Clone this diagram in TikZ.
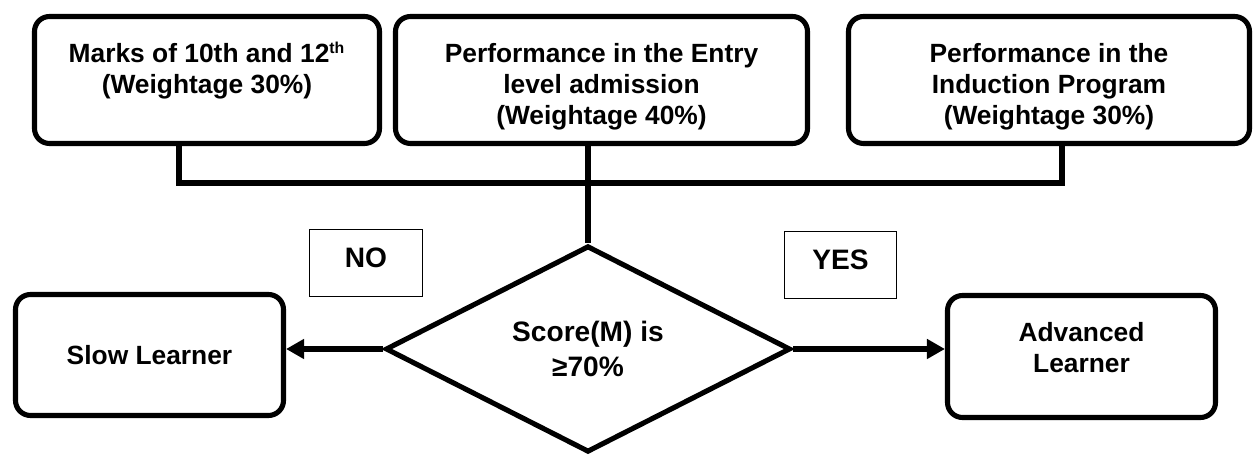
\documentclass[tikz,border=0pt]{standalone}
\usepackage{fontspec}
\setmainfont{Liberation Sans}
\usetikzlibrary{shapes.geometric,arrows.meta}
\newcommand{\toptext}[3]{\parbox[c][#2][t]{#1}{\centering\vspace*{0.49cm}\strut #3}}

\begin{document}
\begin{tikzpicture}
  [
    every node/.style = {font=\bfseries\fontsize{15}{17.6}\selectfont},
    block/.style = {draw, line width=2.9pt, rounded corners=0.3cm, inner sep=0pt},
    tag/.style = {draw, line width=0.8pt, minimum width=2.25cm, minimum height=1.33cm, text depth=0.2cm, font=\bfseries\fontsize{16}{19}\selectfont},
    decision/.style = {diamond, draw, line width=2.9pt, minimum width=8.1cm, minimum height=4.06cm, inner sep=0pt, align=center, font=\bfseries\fontsize{16}{19.5}\selectfont},
    wire/.style = {line width=2.9pt},
    arrow/.style = {wire, -{Triangle[length=3.6mm,width=3.8mm]}},
  ]
  \useasboundingbox (0,0) rectangle (25.08,9.1);

  \node[block] (marks) at (4.14,7.5) {\toptext{6.9cm}{2.54cm}{Marks of 10th and 12\textsuperscript{\fontsize{9}{9}\selectfont th}\\(Weightage 30\%)}};
  \node[block] (entry) at (12.03,7.5) {\toptext{8.24cm}{2.54cm}{Performance in the Entry\\level admission\\(Weightage 40\%)}};
  \node[block] (induct) at (20.98,7.5) {\toptext{8.02cm}{2.54cm}{Performance in the\\Induction Program\\(Weightage 30\%)}};

  \node[decision] (score) at (11.76,2.12) {Score(M) is\\≥70\%};

  \node[block, minimum width=5.36cm, minimum height=2.42cm] (slow) at (2.99,2.0) {Slow Learner};
  \node[block] (adv) at (21.63,1.97) {\toptext{5.36cm}{2.44cm}{Advanced\\Learner}};

  \node[tag] (no) at (7.32,3.84) {NO};
  \node[tag] (yes) at (16.81,3.8) {YES};

  \coordinate (busL) at (3.58,5.44);
  \coordinate (busR) at (21.24,5.44);
  \draw[wire] (marks.south -| busL) -- (busL) -- (busR) -- (induct.south -| busR);
  \draw[wire] (entry.south -| score.north) -- (score.north);

  \draw[arrow] (score.west) -- (score.west -| slow.east);
  \draw[arrow] (score.east) -- (score.east -| adv.west);
\end{tikzpicture}
\end{document}
